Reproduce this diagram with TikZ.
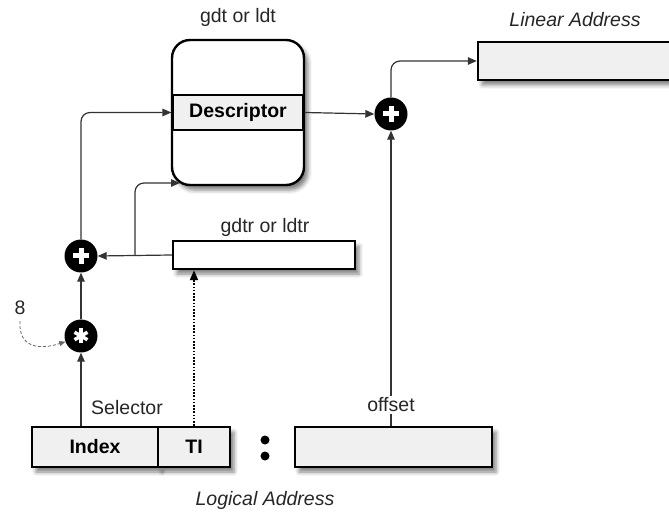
\documentclass[tikz,border=0pt]{standalone}
\usepackage{fontspec}
\setmainfont{Liberation Sans}
\usetikzlibrary{arrows.meta,shadows.blur,calc}
\begin{document}
\begin{tikzpicture}[x=1pt,y=-1pt,
  every node/.style={font=\fontsize{19.5}{21}\selectfont, inner sep=0pt},
  arr/.style={line width=1.2pt, draw=black!80, -{Triangle[length=9pt,width=7.5pt]}},
  shad/.style={blur shadow={shadow xshift=4pt, shadow yshift=-5pt, shadow blur radius=4pt, shadow opacity=50}},
  field/.style={draw, line width=2.4pt, fill=black!6, shad, anchor=center},
  op/.style={circle, fill=black, minimum size=33pt},
  lbl/.style={text=black!85},
  bfl/.style={font=\fontsize{19.5}{21}\selectfont\bfseries},
  itl/.style={font=\fontsize{19.5}{21}\selectfont\itshape}
]
\useasboundingbox (0,0) rectangle (669,518);
% table
\node[draw, line width=2.4pt, fill=white, rounded corners=18pt, minimum width=132pt, minimum height=145pt, shad] (tbl) at (238,112.5) {};
\node[draw, line width=2.2pt, fill=black!6, minimum width=131pt, minimum height=35pt, bfl] (desc) at (238,112.5) {Descriptor};
\node[lbl] (tbllbl) at (238,17) {gdt or ldt};
% linear address
\node[field, minimum width=202pt, minimum height=38pt] (lin) at (579,61) {};
\node[lbl, itl] (linlbl) at (575,20) {Linear Address};
% gdtr
\node[draw, line width=2.4pt, fill=white, shad, minimum width=182pt, minimum height=28pt] (gdtr) at (264,255) {};
\node[lbl] (gdtrlbl) at (265,227) {gdtr or ldtr};
% operators
\node[op] (plusR) at (391,114) {};
\draw[white, line width=5pt] ($(plusR)+(-8,0)$) -- ($(plusR)+(8,0)$) ($(plusR)+(0,-8)$) -- ($(plusR)+(0,8)$);
\node[op] (plusL) at (81,256) {};
\draw[white, line width=5pt] ($(plusL)+(-8,0)$) -- ($(plusL)+(8,0)$) ($(plusL)+(0,-8)$) -- ($(plusL)+(0,8)$);
\node[op] (star) at (81,336) {};
\foreach \a in {90,30,-30}{
  \draw[white, line width=3.5pt] ($(star)+(\a:7.5)$) -- ($(star)+(\a+180:7.5)$);
}
% logical address
\node[field, minimum width=126pt, minimum height=40pt, bfl] (index) at (95,447) {Index};
\node[field, minimum width=72pt, minimum height=40pt, bfl] (ti) at (194,447) {TI};
\node[field, minimum width=197pt, minimum height=40pt] (off) at (393.5,447) {};
\fill (265,440) circle (4.5pt) (265,456) circle (4.5pt);
\node[lbl, itl] (logl) at (265,500) {Logical Address};
% labels
\node[lbl] (sel) at (127,408) {Selector};
\node[lbl] (eight) at (20,308) {8};
% connectors
\draw[arr] (desc.east) -- (plusR.west);
\draw[arr, rounded corners=9pt] (plusR.north) |- (lin.west);
\draw[arr] (plusR.south |- off.north) -- (plusR.south);
\node[lbl, fill=white, inner sep=2pt] (offl) at (391,405) {offset};
\draw[arr] (gdtr.west) -- (plusL.east);
\coordinate (br) at (135,256);
\coordinate (tin) at (180,183);
\draw[arr, rounded corners=9pt] (br) |- (tin);
\draw[arr, rounded corners=9pt] (plusL.north) |- (desc.west);
\draw[arr] (star.north) -- (plusL.south);
\draw[arr] (index.north -| star.south) -- (star.south);
\draw[line width=2pt, dash pattern=on 1.6pt off 1.6pt, -{Triangle[length=10pt,width=8pt]}] (ti.north) -- (ti.north |- gdtr.south);
\draw[densely dashed, line width=0.8pt, draw=black!60, -{Triangle[length=6pt,width=5pt]}] (eight.south) ++(0,6) .. controls (18,348) and (40,350) .. (star.200);
\end{tikzpicture}
\end{document}
